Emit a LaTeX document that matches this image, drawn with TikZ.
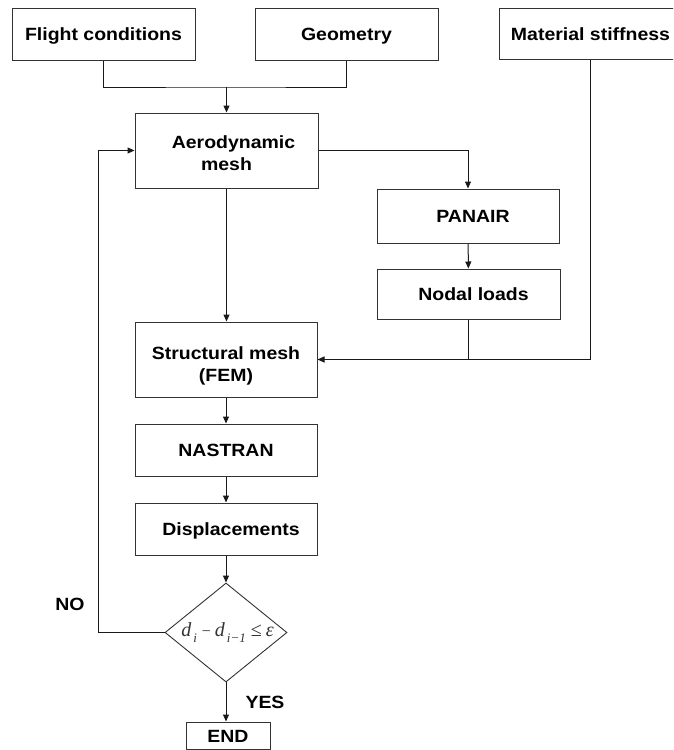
\documentclass[tikz,border=0pt]{standalone}
\usepackage{fontspec}
\newfontfamily\boxfont{Liberation Sans}[FakeStretch=1.1]
\newfontfamily\serfont{Liberation Serif}
\usetikzlibrary{shapes.geometric,arrows.meta}
\newcommand{\subtxt}[1]{\raisebox{-6pt}{\fontsize{13}{13}\selectfont #1}}
\begin{document}
\begin{tikzpicture}[x=1pt,y=-1pt,
  box/.style={draw=black!80,line width=1pt,minimum width=183pt,inner sep=0pt,
    font=\boxfont\bfseries\fontsize{17.7}{22}\selectfont,align=center,
    text height=13pt,text depth=0pt},
  twoline/.style={text height=39.7pt,text depth=0pt},
  conn/.style={line width=1pt,draw=black!90},
  arr/.style={conn,-{Triangle[length=7pt,width=6pt]}},
  lbl/.style={font=\boxfont\bfseries\fontsize{17.7}{22}\selectfont,inner sep=0pt}]
\useasboundingbox (0,0) rectangle (673,750);
\fill[white] (0,0) rectangle (673,750);

\node[box,minimum height=52pt] (flight) at (103.5,34) {Flight conditions};
\node[box,minimum height=52pt] (geom) at (346.5,34) {Geometry};
\begin{scope}
  \clip (0,0) rectangle (673,750);
  \node[box,minimum height=51pt] (mat) at (590.5,33.5) {Material stiffness};
\end{scope}
\node[box,twoline,minimum height=75pt] (aero) at (226.5,150.5) {\hspace*{14pt}Aerodynamic\\mesh};
\node[box,minimum width=182pt,minimum height=54pt] (panair) at (468,216) {\hspace*{10pt}PANAIR};
\node[box,minimum height=50pt] (nodal) at (468.5,294) {\hspace*{10pt}Nodal loads};
\node[box,twoline,text height=43.7pt,minimum width=182pt,minimum height=75pt] (struct) at (226,359.5) {Structural mesh\\(FEM)};
\node[box,minimum width=182pt,minimum height=52pt] (nastran) at (226,450) {NASTRAN};
\node[box,minimum width=182pt,minimum height=52pt] (disp) at (226,529) {\hspace*{10pt}Displacements};
\node[draw=black!80,line width=0.9pt,diamond,minimum width=122pt,minimum height=99pt,inner sep=0pt] (cond) at (226,632.5) {};
\node[inner sep=0pt,text=black!80,font=\serfont\itshape\fontsize{20}{22}\selectfont] (condtext) at (227.5,633)
  {d\hspace{2pt}\subtxt{i}\hspace{5pt}{\upshape\fontsize{16}{16}\selectfont −}\hspace{4pt}d\hspace{2pt}\subtxt{i−1}\hspace{5pt}{\upshape ≤}\hspace{4pt}ε};
\node[box,minimum width=84pt,minimum height=27pt] (endbox) at (228,735.5) {END};

\node[lbl] (no) at (70,604) {NO};
\node[lbl] (yes) at (265,702) {YES};

\coordinate (j) at (226.5,87);
\coordinate (fb) at (98.5,632.5);

\draw[conn] (flight.south) |- (j) -| (geom.south);
\draw[arr] (j) -- (aero.north);
\draw[arr] (aero.east) -| (panair.north);
\draw[arr] (aero.south) -- (aero.south |- struct.north);
\draw[arr] (panair) -- (nodal);
\draw[arr] (nodal.south) |- (struct.east);
\draw[conn] (mat.south) |- (nodal.south |- struct.east);
\draw[arr] (struct) -- (nastran);
\draw[arr] (nastran) -- (disp);
\draw[arr] (disp) -- (cond.north);
\draw[arr] (cond.south) -- (cond.south |- endbox.north);
\draw[arr] (cond.west) -- (fb) |- (aero.west);
\end{tikzpicture}
\end{document}
